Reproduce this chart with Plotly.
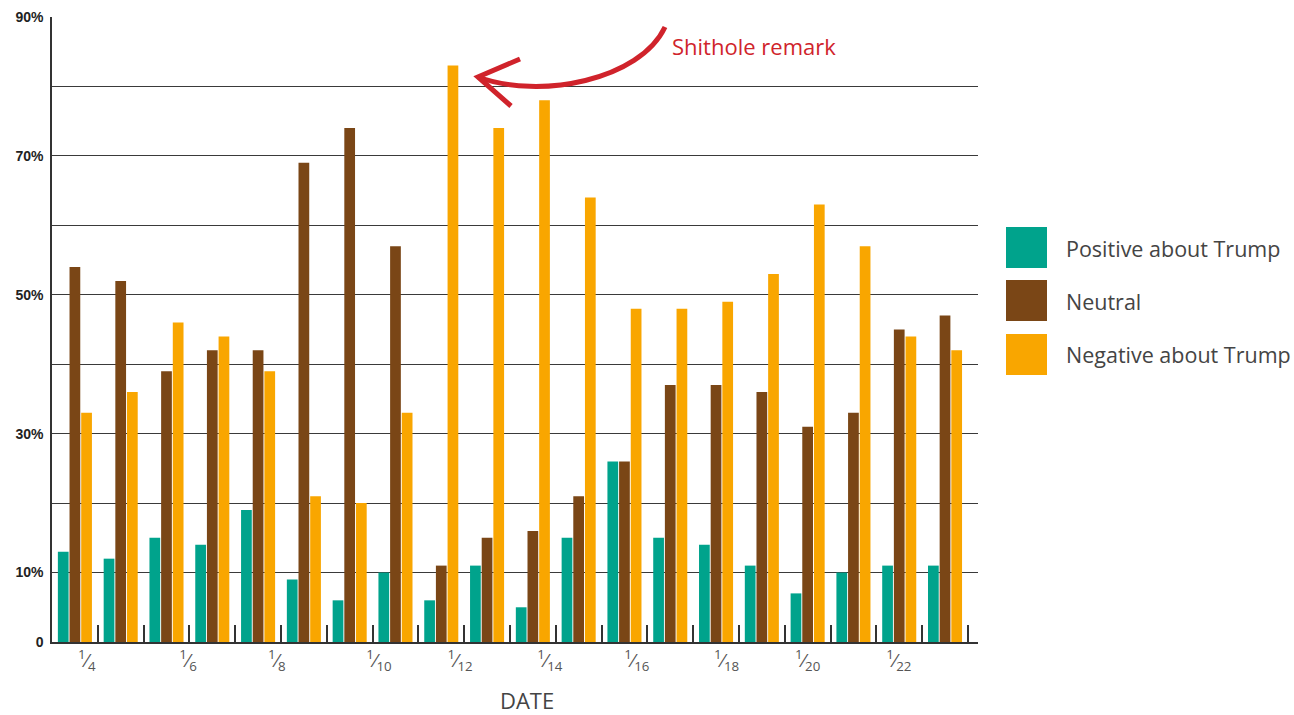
import plotly.graph_objects as go

# ---- data ----
dates = ["1/4", "1/5", "1/6", "1/7", "1/8", "1/9", "1/10", "1/11", "1/12", "1/13",
         "1/14", "1/15", "1/16", "1/17", "1/18", "1/19", "1/20", "1/21", "1/22", "1/23"]
positive = [13, 12, 15, 14, 19, 9, 6, 10, 6, 11, 5, 15, 26, 15, 14, 11, 7, 10, 11, 11]
neutral = [54, 52, 39, 42, 42, 69, 74, 57, 11, 15, 16, 21, 26, 37, 37, 36, 31, 33, 45, 47]
negative = [33, 36, 46, 44, 39, 21, 20, 33, 83, 74, 78, 64, 48, 48, 49, 53, 63, 57, 44, 42]
series_names = ["Positive about Trump", "Neutral", "Negative about Trump"]
colors = ["#00A38C", "#7A4616", "#F9A600"]

tick_denoms = ["4", "6", "8", "10", "12", "14", "16", "18", "20", "22"]
tick_labels = ["<sup>1</sup>⁄<sub>" + d + "</sub>" for d in tick_denoms]
tick_label_pos = [0.26, 2.47, 4.41, 6.64, 8.41, 10.37, 12.27, 14.23, 16.0, 17.99]
y_ticks = [0, 10, 30, 50, 70, 90]
y_ticktext = ["0", "10%", "30%", "50%", "70%", "90%"]
y_minor_grid = [20, 40, 60, 80]

x = list(range(len(dates)))

fig = go.Figure()
for name, vals, c in zip(series_names, [positive, neutral, negative], colors):
    fig.add_trace(go.Bar(x=x, y=vals, name=name, marker=dict(color=c, line_width=0),
                         customdata=dates, hovertemplate="%{customdata}: %{y}%<extra>" + name + "</extra>"))

W, H = 1294, 715
L, R, T, B = 52, 978, 17, 642


def P(px, py):
    return ((px - L) / (R - L), (B - py) / (B - T))


def path(pts, cmd):
    s = ""
    for c, p in zip(cmd, pts):
        xp, yp = P(*p)
        s += f"{c}{xp:.4f},{yp:.4f} "
    return s.strip()


shapes = []
annotations = []
legend_tops = [227, 280, 334]
for top, name, c in zip(legend_tops, series_names, colors):
    x0, y0 = P(1006, top)
    x1, y1 = P(1047, top + 41)
    shapes.append(dict(type="rect", xref="paper", yref="paper", x0=x0, x1=x1, y0=y1, y1=y0,
                       fillcolor=c, line_width=0))
    tx, ty = P(1064, top + 21)
    annotations.append(dict(xref="paper", yref="paper", x=tx, y=ty, xanchor="left", yanchor="middle",
                            text=name, showarrow=False,
                            font=dict(family="Open Sans", size=21.5, color="#444")))

# curved arrow
curve = "M{} C{} {} {}".format(*[("%.4f,%.4f" % P(*p)) for p in [(665, 27), (640, 80), (540, 100), (478, 77)]])
shapes.append(dict(type="path", xref="paper", yref="paper", path=curve,
                   line=dict(color="#D0232B", width=5)))
head = path([(520, 59), (478, 77), (511, 106)], ["M", "L", "L"])
shapes.append(dict(type="path", xref="paper", yref="paper", path=head,
                   line=dict(color="#D0232B", width=5)))

ax, ay = P(670, 46)
annotations.append(dict(xref="paper", yref="paper", x=ax, y=ay, xanchor="left", yanchor="middle",
                        text="Shithole remark", showarrow=False,
                        font=dict(family="Open Sans", size=22, color="#D0232B")))
dx, dy = P(527, 700)
annotations.append(dict(xref="paper", yref="paper", x=dx, y=dy, xanchor="center", yanchor="middle",
                        text="DATE", showarrow=False,
                        font=dict(family="Open Sans", size=22, color="#444")))

fig.update_layout(
    width=W, height=H,
    margin=dict(l=L, r=W - R, t=T, b=H - B, autoexpand=False),
    paper_bgcolor="white", plot_bgcolor="white",
    barmode="group", bargap=0.236, bargroupgap=0.08,
    showlegend=False,
    shapes=shapes, annotations=annotations,
    xaxis=dict(range=[-0.5, 19.72], tickmode="array", tickvals=tick_label_pos, ticktext=tick_labels,
               ticks="", showgrid=False, zeroline=False, showline=True, linecolor="#333", linewidth=1.5,
               automargin=False,
               tickfont=dict(family="Open Sans", size=19, color="#555"),
               minor=dict(tickmode="array", tickvals=[i + 0.5 for i in x], ticks="inside",
                          ticklen=17, tickcolor="#333", tickwidth=1.5, showgrid=False)),
    yaxis=dict(range=[0, 90], tickmode="array", tickvals=y_ticks, ticktext=y_ticktext,
               showgrid=True, gridcolor="#3a3a3a", gridwidth=1.3, zeroline=False,
               showline=True, linecolor="#333", linewidth=1.5, ticks="", automargin=False,
               ticklabelstandoff=4,
               minor=dict(tickmode="array", tickvals=y_minor_grid, ticks="", showgrid=True,
                          gridcolor="#3a3a3a", gridwidth=1.3),
               tickfont=dict(family="Liberation Sans", size=14, color="#222", weight="bold")),
)

fig.write_html("out.html", config={"displayModeBar": False},
               post_script="document.body.style.margin='0';document.body.style.overflow='hidden';")
